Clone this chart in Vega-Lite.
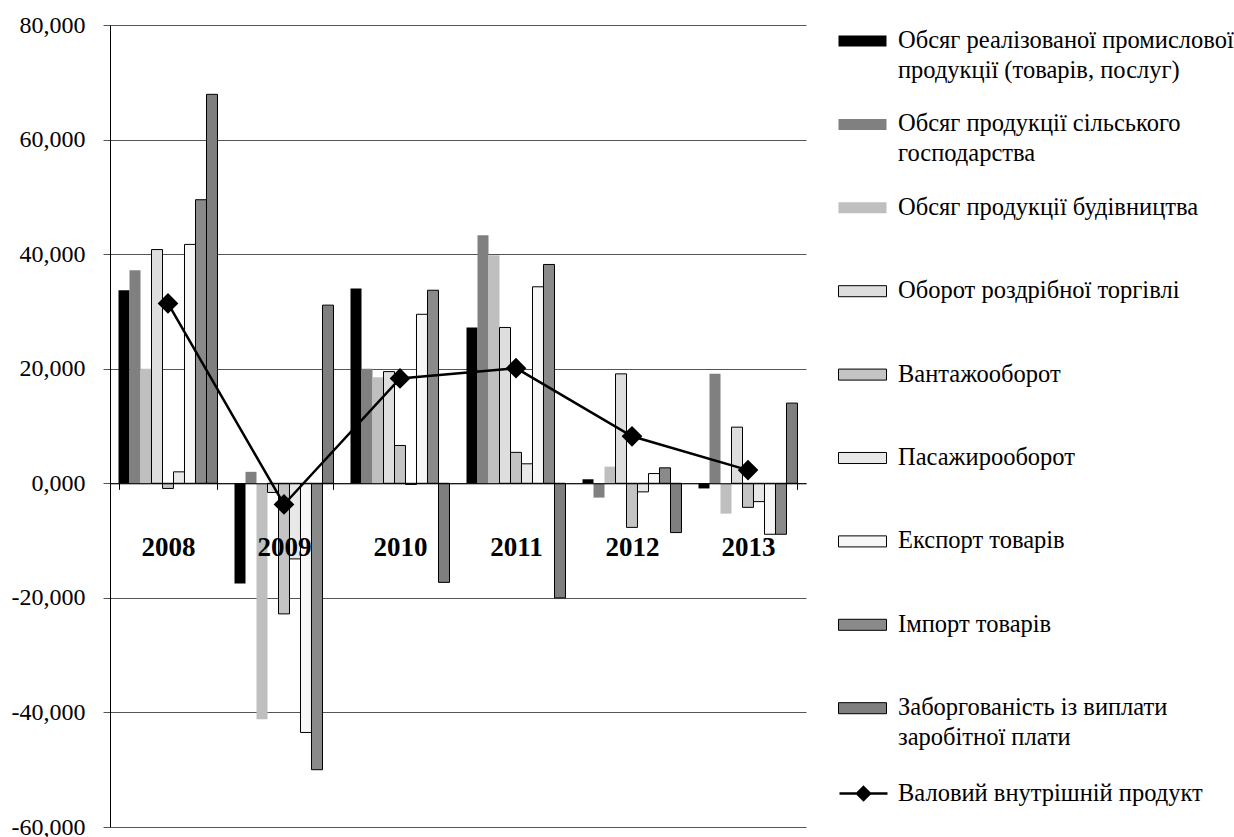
{
  "$schema": "https://vega.github.io/schema/vega-lite/v6.json",
  "width": 696,
  "height": 802,
  "autosize": {"type": "none"},
  "padding": {"left": 110, "top": 25, "right": 428, "bottom": 10},
  "background": "#ffffff",
  "config": {
    "view": {"stroke": null},
    "font": "Liberation Serif",
    "style": {"guide-label": {"lineHeight": 29.5}}
  },
  "datasets": {
    "bars": [
      {"year": "2008", "series": "Обсяг реалізованої промислової продукції (товарів, послуг)", "value": 33.7},
      {"year": "2008", "series": "Обсяг продукції сільського господарства", "value": 37.2},
      {"year": "2008", "series": "Обсяг продукції будівництва", "value": 20.0},
      {"year": "2008", "series": "Оборот роздрібної торгівлі", "value": 40.8},
      {"year": "2008", "series": "Вантажооборот", "value": -0.9},
      {"year": "2008", "series": "Пасажирооборот", "value": 2.0},
      {"year": "2008", "series": "Експорт товарів", "value": 41.7},
      {"year": "2008", "series": "Імпорт товарів", "value": 49.5},
      {"year": "2008", "series": "Заборгованість із виплати заробітної плати", "value": 67.9},
      {"year": "2009", "series": "Обсяг реалізованої промислової продукції (товарів, послуг)", "value": -17.5},
      {"year": "2009", "series": "Обсяг продукції сільського господарства", "value": 2.0},
      {"year": "2009", "series": "Обсяг продукції будівництва", "value": -41.2},
      {"year": "2009", "series": "Оборот роздрібної торгівлі", "value": -1.6},
      {"year": "2009", "series": "Вантажооборот", "value": -22.8},
      {"year": "2009", "series": "Пасажирооборот", "value": -13.2},
      {"year": "2009", "series": "Експорт товарів", "value": -43.5},
      {"year": "2009", "series": "Імпорт товарів", "value": -50.0},
      {"year": "2009", "series": "Заборгованість із виплати заробітної плати", "value": 31.1},
      {"year": "2010", "series": "Обсяг реалізованої промислової продукції (товарів, послуг)", "value": 34.0},
      {"year": "2010", "series": "Обсяг продукції сільського господарства", "value": 20.0},
      {"year": "2010", "series": "Обсяг продукції будівництва", "value": 18.5},
      {"year": "2010", "series": "Оборот роздрібної торгівлі", "value": 19.5},
      {"year": "2010", "series": "Вантажооборот", "value": 6.6},
      {"year": "2010", "series": "Пасажирооборот", "value": -0.2},
      {"year": "2010", "series": "Експорт товарів", "value": 29.5},
      {"year": "2010", "series": "Імпорт товарів", "value": 33.7},
      {"year": "2010", "series": "Заборгованість із виплати заробітної плати", "value": -17.3},
      {"year": "2011", "series": "Обсяг реалізованої промислової продукції (товарів, послуг)", "value": 27.2},
      {"year": "2011", "series": "Обсяг продукції сільського господарства", "value": 43.3},
      {"year": "2011", "series": "Обсяг продукції будівництва", "value": 39.8},
      {"year": "2011", "series": "Оборот роздрібної торгівлі", "value": 27.2},
      {"year": "2011", "series": "Вантажооборот", "value": 5.4},
      {"year": "2011", "series": "Пасажирооборот", "value": 3.4},
      {"year": "2011", "series": "Експорт товарів", "value": 34.3},
      {"year": "2011", "series": "Імпорт товарів", "value": 38.2},
      {"year": "2011", "series": "Заборгованість із виплати заробітної плати", "value": -20.0},
      {"year": "2012", "series": "Обсяг реалізованої промислової продукції (товарів, послуг)", "value": 0.7},
      {"year": "2012", "series": "Обсяг продукції сільського господарства", "value": -2.5},
      {"year": "2012", "series": "Обсяг продукції будівництва", "value": 2.9},
      {"year": "2012", "series": "Оборот роздрібної торгівлі", "value": 19.1},
      {"year": "2012", "series": "Вантажооборот", "value": -7.7},
      {"year": "2012", "series": "Пасажирооборот", "value": -1.5},
      {"year": "2012", "series": "Експорт товарів", "value": 1.7},
      {"year": "2012", "series": "Імпорт товарів", "value": 2.7},
      {"year": "2012", "series": "Заборгованість із виплати заробітної плати", "value": -8.6},
      {"year": "2013", "series": "Обсяг реалізованої промислової продукції (товарів, послуг)", "value": -0.9},
      {"year": "2013", "series": "Обсяг продукції сільського господарства", "value": 19.1},
      {"year": "2013", "series": "Обсяг продукції будівництва", "value": -5.3},
      {"year": "2013", "series": "Оборот роздрібної торгівлі", "value": 9.8},
      {"year": "2013", "series": "Вантажооборот", "value": -4.2},
      {"year": "2013", "series": "Пасажирооборот", "value": -3.2},
      {"year": "2013", "series": "Експорт товарів", "value": -8.9},
      {"year": "2013", "series": "Імпорт товарів", "value": -8.9},
      {"year": "2013", "series": "Заборгованість із виплати заробітної плати", "value": 14.0}
    ],
    "gdp": [
      {"year": "2008", "series": "Валовий внутрішній продукт", "value": 31.4},
      {"year": "2009", "series": "Валовий внутрішній продукт", "value": -3.7},
      {"year": "2010", "series": "Валовий внутрішній продукт", "value": 18.3},
      {"year": "2011", "series": "Валовий внутрішній продукт", "value": 20.1},
      {"year": "2012", "series": "Валовий внутрішній продукт", "value": 8.2},
      {"year": "2013", "series": "Валовий внутрішній продукт", "value": 2.3}
    ]
  },
  "layer": [
    {
      "data": {"name": "bars"},
      "mark": {"type": "bar", "strokeWidth": 1},
      "encoding": {
        "x": {
          "field": "year",
          "type": "nominal",
          "scale": {"paddingInner": 0.1466, "paddingOuter": 0.0733},
          "axis": {
            "title": null,
            "orient": "bottom",
            "offset": -343.7,
            "grid": false,
            "domainColor": "#000000",
            "domainWidth": 1,
            "tickColor": "#000000",
            "tickSize": 6,
            "tickBand": "extent",
            "labelAngle": 0,
            "labelFont": "Liberation Serif",
            "labelFontSize": 27,
            "labelFontWeight": "bold",
            "labelColor": "#000000",
            "labelBaseline": "middle",
            "labelPadding": 58.5,
            "zindex": 1
          }
        },
        "xOffset": {
          "field": "series",
          "type": "nominal",
          "scale": {
            "domain": [
              "Обсяг реалізованої промислової продукції (товарів, послуг)",
              "Обсяг продукції сільського господарства",
              "Обсяг продукції будівництва",
              "Оборот роздрібної торгівлі",
              "Вантажооборот",
              "Пасажирооборот",
              "Експорт товарів",
              "Імпорт товарів",
              "Заборгованість із виплати заробітної плати"
            ],
            "paddingInner": 0,
            "paddingOuter": 0
          }
        },
        "y": {
          "field": "value",
          "type": "quantitative",
          "scale": {"domain": [-60, 80], "nice": false, "zero": false},
          "axis": {
            "title": null,
            "values": [-60, -40, -20, 0, 20, 40, 60, 80],
            "labelExpr": "(datum.value < 0 ? '-' : '') + replace(format(abs(datum.value), '.3f'), '.', ',')",
            "grid": true,
            "gridColor": "#555555",
            "gridWidth": 1,
            "domainColor": "#000000",
            "domainWidth": 1,
            "tickColor": "#555555",
            "tickSize": 7,
            "labelPadding": 18,
            "labelFont": "Liberation Serif",
            "labelFontSize": 24,
            "labelColor": "#000000"
          }
        },
        "fill": {
          "field": "series",
          "type": "nominal",
          "scale": {
            "domain": [
              "Обсяг реалізованої промислової продукції (товарів, послуг)",
              "Обсяг продукції сільського господарства",
              "Обсяг продукції будівництва",
              "Оборот роздрібної торгівлі",
              "Вантажооборот",
              "Пасажирооборот",
              "Експорт товарів",
              "Імпорт товарів",
              "Заборгованість із виплати заробітної плати"
            ],
            "range": ["#000000", "#808080", "#bfbfbf", "#dedede", "#c4c4c4", "#e8e8e8", "#f7f7f7", "#8a8a8a", "#7f7f7f"]
          },
          "legend": {
            "title": null,
            "orient": "none",
            "legendX": 728,
            "legendY": -25.5,
            "padding": 0,
            "symbolType": "M-1,-0.23H1V0.23H-1Z",
            "symbolSize": 2304,
            "symbolStrokeWidth": 1,
            "symbolStrokeColor": {"expr": "indexof(['Обсяг реалізованої промислової продукції (товарів, послуг)', 'Обсяг продукції сільського господарства', 'Обсяг продукції будівництва'], datum.value) >= 0 ? 'transparent' : '#000000'"},
            "clipHeight": 83,
            "rowPadding": 0.4,
            "labelFont": "Liberation Serif",
            "labelFontSize": 24.5,
            "labelColor": "#000000",
            "labelLimit": 400,
            "labelOffset": 11,
            "labelBaseline": "middle",
            "labelExpr": "datum.label == 'Обсяг реалізованої промислової продукції (товарів, послуг)' ? ['Обсяг реалізованої промислової', 'продукції (товарів, послуг)'] : datum.label == 'Обсяг продукції сільського господарства' ? ['Обсяг продукції сільського', 'господарства'] : datum.label == 'Заборгованість із виплати заробітної плати' ? ['Заборгованість із виплати', 'заробітної плати'] : datum.label"
          }
        },
        "stroke": {
          "condition": {
            "test": "indexof(['Обсяг реалізованої промислової продукції (товарів, послуг)', 'Обсяг продукції сільського господарства', 'Обсяг продукції будівництва'], datum.series) >= 0",
            "value": "transparent"
          },
          "value": "#000000"
        }
      }
    },
    {
      "data": {"name": "gdp"},
      "mark": {
        "type": "line",
        "strokeWidth": 2.5,
        "point": {"shape": "diamond", "size": 320, "filled": true, "color": "#000000"}
      },
      "encoding": {
        "x": {"field": "year", "type": "nominal"},
        "y": {"field": "value", "type": "quantitative"},
        "stroke": {
          "field": "series",
          "type": "nominal",
          "scale": {"domain": ["Валовий внутрішній продукт"], "range": ["#000000"]},
          "legend": {
            "title": null,
            "orient": "none",
            "legendX": 728,
            "legendY": 743,
            "padding": 0,
            "symbolType": "M-1,0H1M0,-0.27L0.27,0L0,0.27L-0.27,0Z",
            "symbolSize": 2304,
            "symbolStrokeWidth": 2.5,
            "symbolFillColor": "#000000",
            "symbolStrokeColor": "#000000",
            "labelFont": "Liberation Serif",
            "labelFontSize": 24.5,
            "labelColor": "#000000",
            "labelLimit": 400,
            "labelOffset": 9,
            "labelBaseline": "middle"
          }
        }
      }
    }
  ]
}
